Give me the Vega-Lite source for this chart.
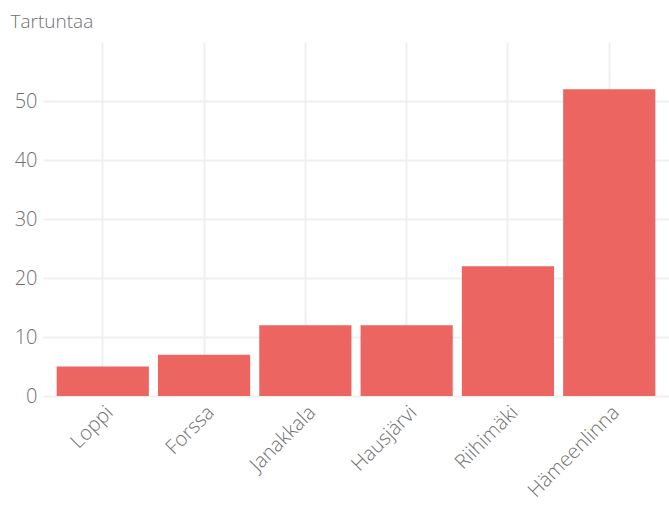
{
  "$schema": "https://vega.github.io/schema/vega-lite/v6.json",
  "autosize": "none",
  "width": 626,
  "height": 354,
  "padding": {"left": 43, "top": 42, "right": 0, "bottom": 109},
  "background": "white",
  "config": {
    "view": {"stroke": null},
    "font": "Open Sans"
  },
  "data": {
    "values": [
      {"kunta": "Loppi", "tartuntaa": 5},
      {"kunta": "Forssa", "tartuntaa": 7},
      {"kunta": "Janakkala", "tartuntaa": 12},
      {"kunta": "Hausjärvi", "tartuntaa": 12},
      {"kunta": "Riihimäki", "tartuntaa": 22},
      {"kunta": "Hämeenlinna", "tartuntaa": 52}
    ]
  },
  "mark": {"type": "bar", "color": "#EC6560"},
  "encoding": {
    "x": {
      "field": "kunta",
      "type": "nominal",
      "sort": null,
      "scale": {"paddingInner": 0.09, "paddingOuter": 0.135},
      "axis": {
        "title": null,
        "labelAngle": -45,
        "labelAlign": "right",
        "labelBaseline": "top",
        "labelFontSize": 20,
        "labelFontWeight": 300,
        "labelColor": "#707070",
        "labelPadding": 6,
        "ticks": false,
        "domain": false,
        "grid": true,
        "bandPosition": 0.5,
        "gridColor": "#f0f0f0",
        "gridWidth": 2
      }
    },
    "y": {
      "field": "tartuntaa",
      "type": "quantitative",
      "scale": {"domain": [0, 60], "nice": false},
      "axis": {
        "title": "Tartuntaa",
        "titleAngle": 0,
        "titleAlign": "left",
        "titleBaseline": "alphabetic",
        "titleX": -33,
        "titleY": -15,
        "titleFontSize": 19,
        "titleFontWeight": 300,
        "titleColor": "#707070",
        "values": [0, 10, 20, 30, 40, 50],
        "labelFontSize": 20,
        "labelFontWeight": 300,
        "labelColor": "#707070",
        "labelPadding": 6,
        "ticks": false,
        "domain": false,
        "gridColor": "#f0f0f0",
        "gridWidth": 2
      }
    }
  }
}
